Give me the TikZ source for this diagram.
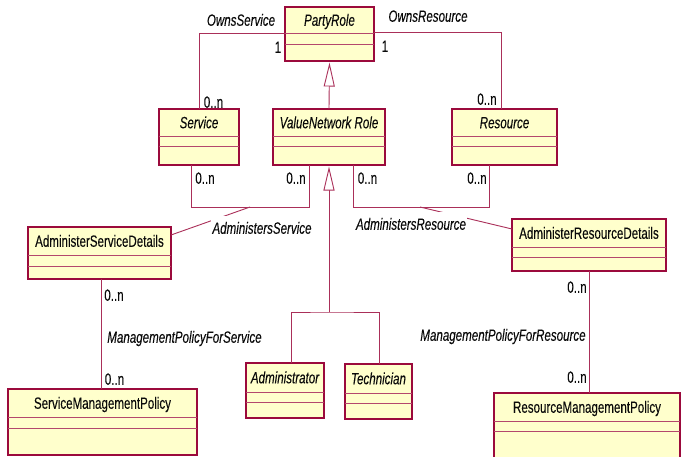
\documentclass[tikz,border=0pt]{standalone}
\usepackage{fontspec}
\setmainfont{Liberation Sans}[FakeStretch=0.71, FakeBold=0.08]
\usetikzlibrary{arrows.meta}
\definecolor{umlred}{RGB}{155,10,60}
\definecolor{umlfill}{RGB}{255,255,204}
\definecolor{txt}{RGB}{10,10,10}
\tikzset{
  clsbox/.style={draw=umlred, fill=umlfill, line width=1.2pt, inner sep=0pt, outer sep=0pt},
  clsname/.style={text=txt, font=\fontsize{16.3}{18}\selectfont, inner sep=0pt, text height=11.5pt, text depth=0pt},
  clsline/.style={draw=umlred!75, line width=0.9pt},
  assoc/.style={draw=umlred!85, line width=0.9pt},
  gen/.style={draw=umlred!85, line width=0.9pt, -{Triangle[open, length=24pt, width=11pt, fill=white]}},
  lbl/.style={text=txt, font=\fontsize{16.3}{18}\selectfont, inner sep=0pt, text height=11.5pt, text depth=0pt},
  wlbl/.style={lbl, fill=white, inner xsep=1pt, inner ysep=6pt},
}
\newcommand{\umlcls}[8]{%
  \node[clsbox, anchor=north west, minimum width={#4-#2}, minimum height={#5-#3}] (#1) at (#2,#3) {};
  \node[clsname] (#1-t) at ({(#2+#4)/2},{(#3+#6)/2}) {#8};
  \draw[clsline] (#2,#6) -- (#4,#6);
  \draw[clsline] (#2,#7) -- (#4,#7);
}
\begin{document}
\begin{tikzpicture}[x=1pt,y=-1pt]
\fill[white] (0,0) rectangle (686,456);
\useasboundingbox (0,0) rectangle (686,456);

% classes
\umlcls{pr}{285}{7}{374}{61}{33}{44}{\itshape PartyRole}
\umlcls{sv}{159}{109}{239}{165}{136}{146}{\itshape Service}
\umlcls{vnr}{273}{109}{385}{165}{136}{146}{\itshape ValueNetwork Role}
\umlcls{rs}{452}{109}{557}{165}{136}{146}{\itshape Resource}
\umlcls{asd}{28}{227}{171}{279}{255}{266}{AdministerServiceDetails}
\umlcls{ard}{512}{219}{666}{271}{247}{257}{AdministerResourceDetails}
\umlcls{adm}{246}{363}{324}{418}{392}{402}{\itshape Administrator}
\umlcls{tec}{345}{364}{412}{419}{393}{403}{\itshape Technician}
\umlcls{smp}{8}{389}{197}{455}{417}{428}{ServiceManagementPolicy}
\umlcls{rmp}{494}{393}{680}{462}{421}{431}{ResourceManagementPolicy}

% OwnsService / OwnsResource
\draw[assoc] ([yshift=-26pt]pr.north west) -| (sv.north);
\draw[assoc] ([yshift=-25pt]pr.north east) -| ([xshift=49pt]rs.north west);
\node[lbl] (l-os) at (241,20) {\itshape OwnsService};
\node[lbl] (l-os1) at (278,47) {1};
\node[lbl] (l-osn) at (213.5,102) {0..n};
\node[lbl] (l-or) at (428,16) {\itshape OwnsResource};
\node[lbl] (l-or1) at (385,46) {1};
\node[lbl] (l-orn) at (487,99) {0..n};

% generalizations
\draw[gen] (vnr.north) -- ([yshift=-1.5pt]pr.south);
\coordinate (gj) at ([yshift=-147pt]vnr.south);
\draw[assoc] ([xshift=45pt]adm.north west) |- (gj) -| ([xshift=34pt]tec.north west);
\draw[gen] (gj) -- ([yshift=-1.5pt]vnr.south);

% AdministersService
\draw[assoc] ([xshift=32pt]sv.south west) -- ++(0,42) -| ([xshift=36pt]vnr.south west);
\coordinate (asj) at ([xshift=91pt,yshift=-42pt]sv.south west);
\draw[assoc] (asj) -- ([yshift=-8pt]asd.north east);
\node[wlbl] (l-as) at (262,228) {\itshape AdministersService};
\node[lbl] (l-as1) at (205,178) {0..n};
\node[lbl] (l-as2) at (296,178) {0..n};

% AdministersResource
\draw[assoc] ([xshift=80pt]vnr.south west) -- ++(0,42) -| ([xshift=37pt]rs.south west);
\coordinate (arj) at ([xshift=147pt,yshift=-42pt]vnr.south west);
\draw[assoc] (arj) -- ([yshift=-10pt]ard.north west);
\node[wlbl] (l-ar) at (411,224) {\itshape AdministersResource};
\node[lbl] (l-ar1) at (367.5,178) {0..n};
\node[lbl] (l-ar2) at (477,178) {0..n};

% ManagementPolicy
\draw[assoc] ([xshift=73pt]asd.south west) -- ([xshift=93pt]smp.north west);
\node[lbl] (l-mps) at (184.5,337) {\itshape ManagementPolicyForService};
\node[lbl] (l-mps1) at (114,295) {0..n};
\node[lbl] (l-mps2) at (114.5,379) {0..n};

\draw[assoc] (ard.south) -- (ard.south |- rmp.north);
\node[lbl] (l-mpr) at (503,335) {\itshape ManagementPolicyForResource};
\node[lbl] (l-mpr1) at (577,287) {0..n};
\node[lbl] (l-mpr2) at (577,377) {0..n};
\end{tikzpicture}
\end{document}
